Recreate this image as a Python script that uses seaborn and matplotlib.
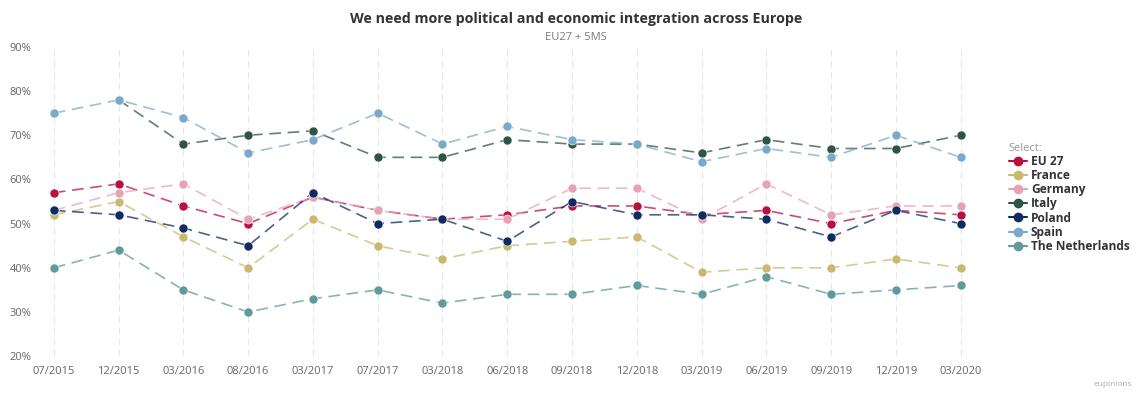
import matplotlib
matplotlib.use("Agg")
import matplotlib.pyplot as plt
from matplotlib.lines import Line2D
import seaborn as sb
import pandas as pd
import numpy as np

# survey waves
waves = ["07/2015", "12/2015", "03/2016", "08/2016", "03/2017", "07/2017", "03/2018",
         "06/2018", "09/2018", "12/2018", "03/2019", "06/2019", "09/2019", "12/2019", "03/2020"]

# share agreeing, in %
eu27 = [57, 59, 54, 50, 56, 53, 51, 52, 54, 54, 52, 53, 50, 53, 52]
france = [52, 55, 47, 40, 51, 45, 42, 45, 46, 47, 39, 40, 40, 42, 40]
germany = [53, 57, 59, 51, 56, 53, 51, 51, 58, 58, 51, 59, 52, 54, 54]
italy = [np.nan, 78, 68, 70, 71, 65, 65, 69, 68, 68, 66, 69, 67, 67, 70]
poland = [53, 52, 49, 45, 57, 50, 51, 46, 55, 52, 52, 51, 47, 53, 50]
spain = [75, 78, 74, 66, 69, 75, 68, 72, 69, 68, 64, 67, 65, 70, 65]
netherlands = [40, 44, 35, 30, 33, 35, 32, 34, 34, 36, 34, 38, 34, 35, 36]

countries = ["EU 27", "France", "Germany", "Italy", "Poland", "Spain", "The Netherlands"]
colors = ["#b8103f", "#c9b86e", "#e8a2b5", "#2d5444", "#0f2c62", "#7aaac8", "#5f9b9a"]

series = [eu27, france, germany, italy, poland, spain, netherlands]
rows = []
for name, vals in zip(countries, series):
    for i, v in enumerate(vals):
        if not np.isnan(v):
            rows.append({"wave": i, "country": name, "value": v})
df = pd.DataFrame(rows)

sb.set_style("white")
plt.rcParams["font.family"] = ["Open Sans", "DejaVu Sans"]

fig = plt.figure(figsize=(11.41, 3.94), dpi=100)
ax = fig.add_axes([0.033, 0.096, 0.826, 0.785])

for x in range(len(waves)):
    ax.axvline(x, color="#e6e6ea", lw=0.8, ls=(0, (6, 4)), zorder=0)

# lines first (lighter), then markers on top
sb.lineplot(data=df, x="wave", y="value", hue="country", hue_order=countries,
            palette=colors, ax=ax, legend=False, linewidth=1.2,
            linestyle=(0, (7, 4)), alpha=0.75)
for name, col in zip(countries, colors):
    d = df[df.country == name]
    ax.plot(d.wave, d.value, "o", color=col, ms=6.5, mec="white", mew=0.4, zorder=5)

ax.set_xlim(-0.25, 14.3)
ax.set_ylim(20, 90)
ax.set_xticks(range(len(waves)))
ax.set_xticklabels(waves)
ax.set_yticks(range(20, 91, 10))
ax.set_yticklabels([f"{v}%" for v in range(20, 91, 10)])
ax.tick_params(axis="both", length=0, labelsize=8, colors="#666666")
ax.tick_params(axis="x", pad=7)
ax.tick_params(axis="y", pad=-2)
for lab in ax.get_yticklabels():
    lab.set_horizontalalignment("left")
    lab.set_x(-0.033)
for s in ax.spines.values():
    s.set_visible(False)
ax.set_xlabel("")
ax.set_ylabel("")

fig.text(0.505, 0.952, "We need more political and economic integration across Europe",
         ha="center", va="center", fontsize=10.3, fontweight="bold", color="#333333")
fig.text(0.505, 0.905, "EU27 + 5MS", ha="center", va="center", fontsize=8, color="#777777")

handles = [Line2D([0], [0], color=c, lw=1.5, marker="o", ms=6, markeredgecolor=c)
           for c in colors]
leg = fig.legend(handles, countries, loc="upper left", bbox_to_anchor=(0.880, 0.650),
                 frameon=False, title="Select:", fontsize=8.6, title_fontsize=8,
                 handlelength=1.5, handletextpad=0.35, labelspacing=0.1,
                 borderaxespad=0)
leg._legend_box.align = "left"
leg.get_title().set_color("#999999")
for t in leg.get_texts():
    t.set_fontweight("bold")
    t.set_color("#333333")

fig.text(0.992, 0.015, "eupinions", ha="right", va="bottom", fontsize=6, color="#aaaaaa")

fig.savefig("out.png", dpi=100)
